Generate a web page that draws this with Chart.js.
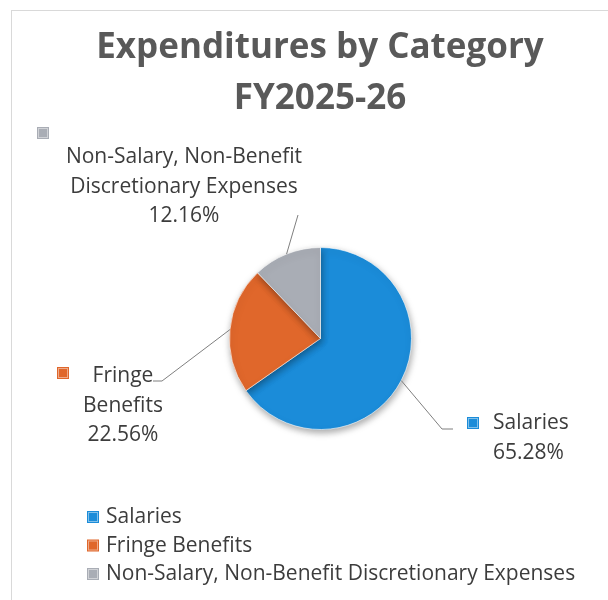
<!DOCTYPE html>
<html>
<head>
<meta charset="utf-8">
<script src="https://cdn.jsdelivr.net/npm/chart.js@4"></script>
<style>
  body { margin: 0; background: #fff; }
  #wrap { width: 608px; height: 600px; }
</style>
</head>
<body>
<div id="wrap"><canvas id="chart" width="608" height="600"></canvas></div>
<script>
const categories = ['Salaries', 'Fringe Benefits', 'Non-Salary, Non-Benefit Discretionary Expenses'];
const shares = [65.28, 22.56, 12.16];
const sliceColors = ['#1b8cd9', '#e0672b', '#a9adb5'];
const titleLines = ['Expenditures by Category', 'FY2025-26'];

// where each data label sits (Excel-style callouts)
const labelSpots = [
    { marker: [473, 423], x: 493, base: 429, align: 'left', wrap: 110, elbow: [[442, 429], [453, 429]] },
    { marker: [63, 373], x: 123, base: 382, align: 'center', wrap: 90, elbow: [[162, 381], [153, 381]] },
    { marker: [43, 133], x: 184, base: 163, align: 'center', wrap: 260, elbow: [[298, 215]] }
];

const textFont = '21px "Open Sans"';
const textColor = '#3c3c3c';
const lineGap = 29.5;

function wrapWords(ctx, text, maxWidth) {
    const words = text.split(' ');
    const lines = [];
    let cur = '';
    words.forEach(w => {
        const test = cur ? cur + ' ' + w : w;
        if (cur && ctx.measureText(test).width > maxWidth) {
            lines.push(cur);
            cur = w;
        } else {
            cur = test;
        }
    });
    if (cur) lines.push(cur);
    return lines;
}

function drawMarker(ctx, cx, cy, color) {
    ctx.fillStyle = color;
    ctx.fillRect(cx - 6, cy - 6, 12, 12);
    ctx.strokeStyle = 'rgba(255,255,255,0.45)';
    ctx.lineWidth = 1;
    ctx.strokeRect(cx - 4.5, cy - 4.5, 9, 9);
}

const frame = {
    id: 'frame',
    beforeDraw(chart) {
        const ctx = chart.ctx;
        ctx.save();
        ctx.strokeStyle = '#d9d9d9';
        ctx.lineWidth = 1;
        ctx.strokeRect(11.5, 10.5, 700, 700);
        // title, centred over the pie
        ctx.fillStyle = '#595959';
        ctx.font = 'bold 35px "Open Sans"';
        ctx.textAlign = 'center';
        ctx.fillText(titleLines[0], 320, 58);
        ctx.fillText(titleLines[1], 320, 109);
        ctx.restore();
    }
};

const pieShadow = {
    id: 'pieShadow',
    beforeDatasetDraw(chart) {
        const ctx = chart.ctx;
        ctx.save();
        ctx.shadowColor = 'rgba(0,0,0,0.35)';
        ctx.shadowBlur = 7;
        ctx.shadowOffsetX = 1;
        ctx.shadowOffsetY = 3;
    },
    afterDatasetDraw(chart) {
        chart.ctx.restore();
    }
};

const callouts = {
    id: 'callouts',
    afterDatasetsDraw(chart) {
        const ctx = chart.ctx;
        const arcs = chart.getDatasetMeta(0).data;
        ctx.save();
        ctx.font = textFont;
        arcs.forEach((arc, i) => {
            const spot = labelSpots[i];
            const p = arc.getProps(['x', 'y', 'startAngle', 'endAngle', 'outerRadius'], true);
            const mid = (p.startAngle + p.endAngle) / 2;
            // leader line from the slice edge
            ctx.beginPath();
            ctx.moveTo(p.x + Math.cos(mid) * p.outerRadius, p.y + Math.sin(mid) * p.outerRadius);
            spot.elbow.forEach(pt => ctx.lineTo(pt[0], pt[1]));
            ctx.strokeStyle = '#7f7f7f';
            ctx.lineWidth = 1;
            ctx.stroke();

            drawMarker(ctx, spot.marker[0], spot.marker[1], sliceColors[i]);

            const lines = wrapWords(ctx, chart.data.labels[i], spot.wrap);
            lines.push(shares[i].toFixed(2) + '%');
            ctx.fillStyle = textColor;
            ctx.textAlign = spot.align;
            ctx.textBaseline = 'alphabetic';
            lines.forEach((ln, k) => ctx.fillText(ln, spot.x, spot.base + k * lineGap));
        });

        // legend at the bottom, one entry per row
        ctx.textAlign = 'left';
        chart.data.labels.forEach((lab, i) => {
            const base = 523 + i * 28.5;
            drawMarker(ctx, 93, base - 6, sliceColors[i]);
            ctx.fillStyle = textColor;
            ctx.fillText(lab, 106, base);
        });
        ctx.restore();
    }
};

new Chart(document.getElementById('chart'), {
    type: 'pie',
    data: {
        labels: categories,
        datasets: [{
            data: shares,
            backgroundColor: sliceColors,
            borderColor: 'rgba(255,255,255,0.6)',
            borderWidth: 1,
            hoverOffset: 0
        }]
    },
    options: {
        responsive: false,
        animation: false,
        devicePixelRatio: 1,
        layout: { padding: { left: 229, right: 196, top: 247, bottom: 170 } },
        plugins: {
            legend: { display: false },
            tooltip: { enabled: false },
            title: { display: false }
        }
    },
    plugins: [frame, pieShadow, callouts]
});
</script>
</body>
</html>
